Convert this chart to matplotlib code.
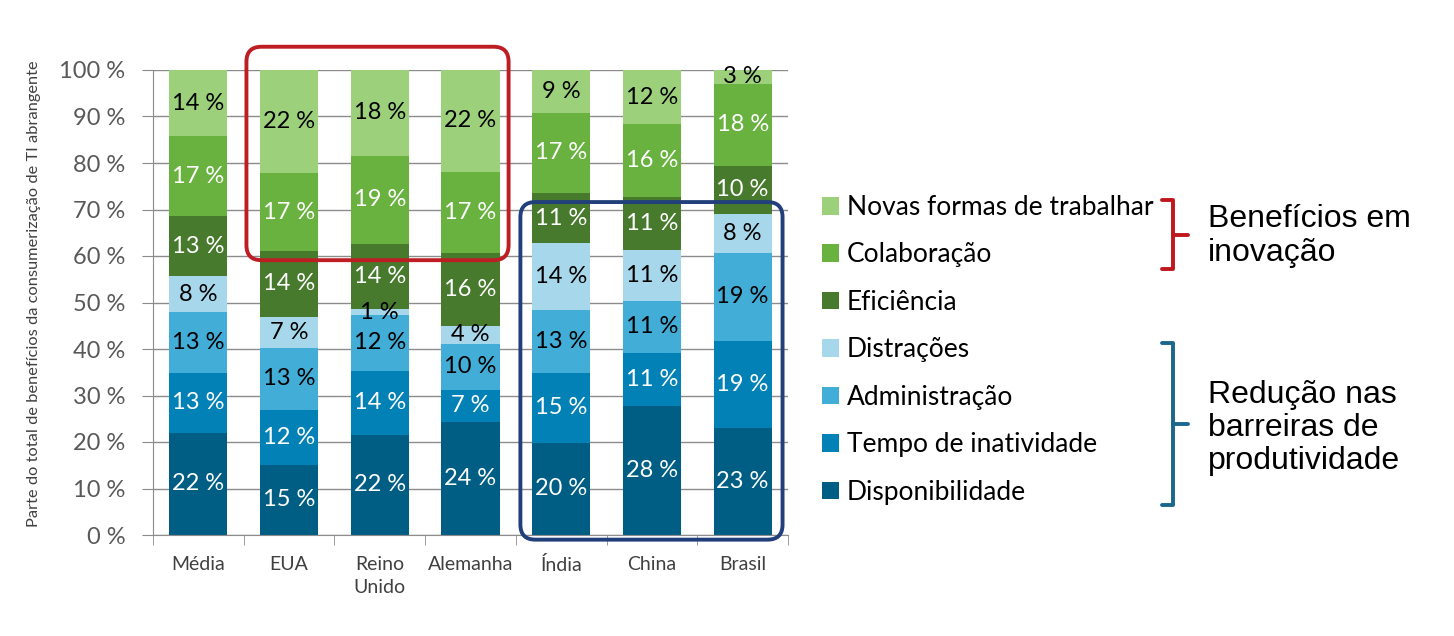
import matplotlib
matplotlib.use("Agg")
import matplotlib.pyplot as plt
from matplotlib.patches import FancyBboxPatch
from matplotlib.lines import Line2D
import numpy as np

plt.rcParams['font.family'] = ['Lato', 'DejaVu Sans']

# categorias e séries (de baixo para cima)
paises = ['Média', 'EUA', 'Reino\nUnido', 'Alemanha', 'Índia', 'China', 'Brasil']
series = ['Disponibilidade', 'Tempo de inatividade', 'Administração', 'Distrações',
          'Eficiência', 'Colaboração', 'Novas formas de trabalhar']

disponibilidade = [22.0, 15.1, 21.6, 24.3, 19.8, 27.7, 23.1]
tempo_inativ = [12.9, 11.8, 13.7, 6.9, 15.1, 11.4, 18.6]
administracao = [13.1, 13.4, 12.1, 9.9, 13.4, 11.3, 19.0]
distracoes = [7.6, 6.6, 1.1, 3.9, 14.4, 10.9, 8.4]
eficiencia = [12.9, 14.2, 14.1, 15.7, 10.9, 11.4, 10.3]
colaboracao = [17.2, 16.7, 19.0, 17.4, 17.2, 15.6, 17.6]
novas_formas = [14.3, 22.2, 18.4, 21.9, 9.2, 11.7, 3.0]

valores = [disponibilidade, tempo_inativ, administracao, distracoes,
           eficiencia, colaboracao, novas_formas]
cores = ['#005E84', '#0281B6', '#42ADD7', '#A7D7EB', '#487A2D', '#69B23F', '#9CD07B']
cor_texto = ['white', 'white', 'black', 'black', 'white', 'white', 'black']

fig = plt.figure(figsize=(14.54, 6.36), dpi=100)
ax = fig.add_axes([153/1454, 1-535/636, 635/1454, 465/636])

x = np.arange(len(paises))
base = np.zeros(len(paises))
barras = []
for i, serie in enumerate(series):
    v = np.array(valores[i])
    b = ax.bar(x, v, 0.64, bottom=base, color=cores[i], label=serie, zorder=2)
    barras.append(b)
    for xi, vi, bi in zip(x, v, base):
        ax.text(xi, bi + vi/2, f"{vi:.0f} %", ha='center', va='center',
                fontsize=17, color=cor_texto[i], zorder=3)
    base += v

ax.set_xlim(-0.5, len(paises) - 0.5)
ax.set_ylim(0, 100)
ax.set_yticks(np.arange(0, 101, 10))
ax.set_yticklabels([f"{t} %" for t in range(0, 101, 10)], fontsize=17, color='#595959')
ax.yaxis.grid(True, color='#8c8c8c', linewidth=1, zorder=0)
ax.set_axisbelow(True)
ax.tick_params(axis='y', length=8, color='#8c8c8c', pad=12)

ax.set_xticks(x)
ax.set_xticklabels(paises, fontsize=14, color='#404040')
for t in ax.get_xticklabels():
    t.set_linespacing(1.45)
ax.set_xticks(np.arange(-0.5, len(paises)), minor=True)
ax.tick_params(axis='x', which='major', length=0, pad=15)
ax.tick_params(axis='x', which='minor', length=7, color='#8c8c8c')

for s in ['top', 'right']:
    ax.spines[s].set_visible(False)
ax.spines['left'].set_color('#8c8c8c')
ax.spines['bottom'].set_color('#8c8c8c')

ax.set_ylabel('Parte do total de benefícios da consumerização de TI abrangente',
              fontsize=11.8, color='#404040')
ax.yaxis.set_label_coords(-0.176, 0.52)

# caixas arredondadas (aspecto para cantos circulares)
px_x = 635 / (len(paises))
px_y = 465 / 100
asp = px_x / px_y
r = 15 / px_x
caixa_verm = FancyBboxPatch((0.53, 59.1), 3.42 - 0.53, 105 - 59.1,
                            boxstyle=f"round,pad=0,rounding_size={r}",
                            mutation_aspect=asp, fill=False, edgecolor='#BE1E23',
                            linewidth=2.8, clip_on=False, zorder=5)
caixa_azul = FancyBboxPatch((3.55, -1.0), 6.44 - 3.55, 71.6 + 1.0,
                            boxstyle=f"round,pad=0,rounding_size={r}",
                            mutation_aspect=asp, fill=False, edgecolor='#213F7B',
                            linewidth=2.8, clip_on=False, zorder=5)
ax.add_patch(caixa_verm)
ax.add_patch(caixa_azul)

# legenda (ordem invertida)
leg = fig.legend(barras[::-1], series[::-1], loc='upper left',
                 bbox_to_anchor=(822/1454, 1-195/636), frameon=False,
                 fontsize=19, handlelength=0.65, handleheight=0.65,
                 handletextpad=0.3, labelspacing=0.85, borderpad=0, borderaxespad=0)


def chave(y_top, y_bot, cor):
    xv = 1173/1454
    xl = 1162/1454
    xt = 1188/1454
    yt = 1 - y_top/636
    yb = 1 - y_bot/636
    ym = (yt + yb) / 2
    fig.add_artist(Line2D([xl, xv, xv, xl], [yt, yt, yb, yb], color=cor, linewidth=2.8,
                          solid_joinstyle='round', solid_capstyle='round'))
    fig.add_artist(Line2D([xv, xt], [ym, ym], color=cor, linewidth=2.8,
                          solid_capstyle='round'))


chave(200, 269, '#C0161D')
chave(343, 505, '#1B668C')

fig.text(1208/1454, 1-236/636, 'Benefícios em\ninovação', fontsize=23,
         family=['Liberation Sans', 'DejaVu Sans'], va='center', ha='left',
         linespacing=1.15)
fig.text(1208/1454, 1-428/636, 'Redução nas\nbarreiras de\nprodutividade', fontsize=23,
         family=['Liberation Sans', 'DejaVu Sans'], va='center', ha='left',
         linespacing=1.15)

fig.savefig('out.png', dpi=100)
